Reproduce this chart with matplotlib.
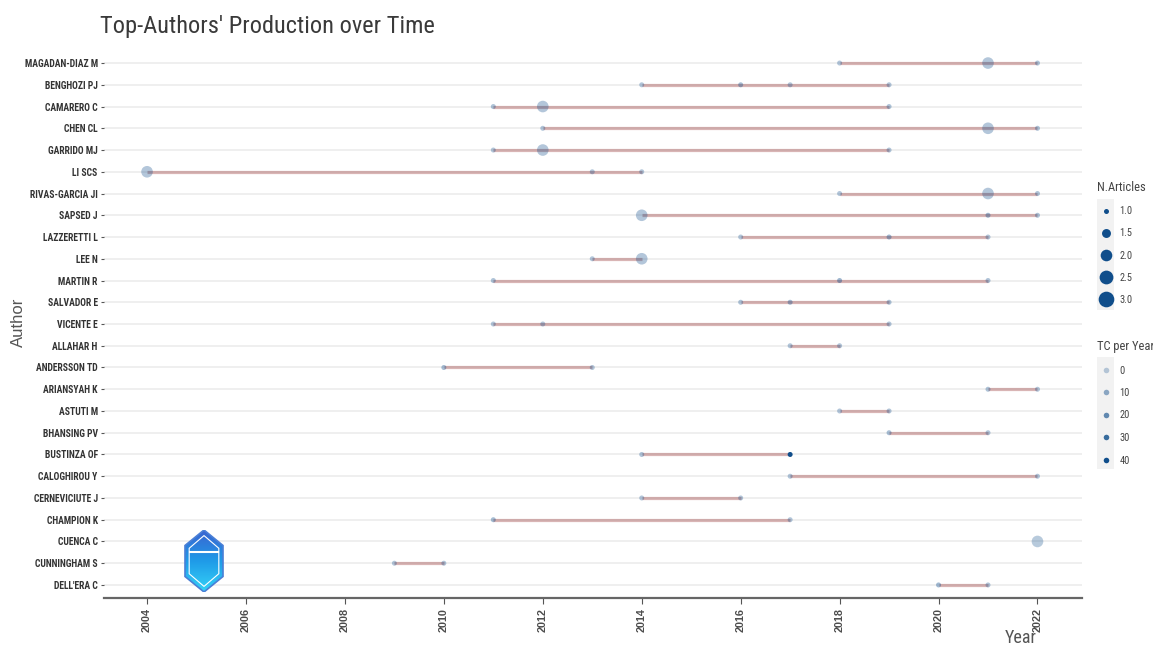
import numpy as np
import matplotlib
matplotlib.use('Agg')
import matplotlib.pyplot as plt
from matplotlib import font_manager
from matplotlib.lines import Line2D
from matplotlib.patches import Polygon, Rectangle

# authors, top to bottom
autores = ['MAGADAN-DIAZ M', 'BENGHOZI PJ', 'CAMARERO C', 'CHEN CL', 'GARRIDO MJ',
           'LI SCS', 'RIVAS-GARCIA JI', 'SAPSED J', 'LAZZERETTI L', 'LEE N',
           'MARTIN R', 'SALVADOR E', 'VICENTE E', 'ALLAHAR H', 'ANDERSSON TD',
           'ARIANSYAH K', 'ASTUTI M', 'BHANSING PV', 'BUSTINZA OF', 'CALOGHIROU Y',
           'CERNEVICIUTE J', 'CHAMPION K', 'CUENCA C', 'CUNNINGHAM S', "DELL'ERA C"]

# one entry per point: author, year, n. articles, TC per year
punto_autor = ['MAGADAN-DIAZ M', 'MAGADAN-DIAZ M', 'MAGADAN-DIAZ M',
               'BENGHOZI PJ', 'BENGHOZI PJ', 'BENGHOZI PJ', 'BENGHOZI PJ',
               'CAMARERO C', 'CAMARERO C', 'CAMARERO C',
               'CHEN CL', 'CHEN CL', 'CHEN CL',
               'GARRIDO MJ', 'GARRIDO MJ', 'GARRIDO MJ',
               'LI SCS', 'LI SCS', 'LI SCS',
               'RIVAS-GARCIA JI', 'RIVAS-GARCIA JI', 'RIVAS-GARCIA JI',
               'SAPSED J', 'SAPSED J', 'SAPSED J',
               'LAZZERETTI L', 'LAZZERETTI L', 'LAZZERETTI L',
               'LEE N', 'LEE N',
               'MARTIN R', 'MARTIN R', 'MARTIN R',
               'SALVADOR E', 'SALVADOR E', 'SALVADOR E',
               'VICENTE E', 'VICENTE E', 'VICENTE E',
               'ALLAHAR H', 'ALLAHAR H',
               'ANDERSSON TD', 'ANDERSSON TD',
               'ARIANSYAH K', 'ARIANSYAH K',
               'ASTUTI M', 'ASTUTI M',
               'BHANSING PV', 'BHANSING PV',
               'BUSTINZA OF', 'BUSTINZA OF',
               'CALOGHIROU Y', 'CALOGHIROU Y',
               'CERNEVICIUTE J', 'CERNEVICIUTE J',
               'CHAMPION K', 'CHAMPION K',
               'CUENCA C',
               'CUNNINGHAM S', 'CUNNINGHAM S',
               "DELL'ERA C", "DELL'ERA C"]
punto_anio = [2018, 2021, 2022,
              2014, 2016, 2017, 2019,
              2011, 2012, 2019,
              2012, 2021, 2022,
              2011, 2012, 2019,
              2004, 2013, 2014,
              2018, 2021, 2022,
              2014, 2021, 2022,
              2016, 2019, 2021,
              2013, 2014,
              2011, 2018, 2021,
              2016, 2017, 2019,
              2011, 2012, 2019,
              2017, 2018,
              2010, 2013,
              2021, 2022,
              2018, 2019,
              2019, 2021,
              2014, 2017,
              2017, 2022,
              2014, 2016,
              2011, 2017,
              2022,
              2009, 2010,
              2020, 2021]
punto_articulos = [1, 2, 1,
                   1, 1, 1, 1,
                   1, 2, 1,
                   1, 2, 1,
                   1, 2, 1,
                   2, 1, 1,
                   1, 2, 1,
                   2, 1, 1,
                   1, 1, 1,
                   1, 2,
                   1, 1, 1,
                   1, 1, 1,
                   1, 1, 1,
                   1, 1,
                   1, 1,
                   1, 1,
                   1, 1,
                   1, 1,
                   1, 1,
                   1, 1,
                   1, 1,
                   1, 1,
                   2,
                   1, 1,
                   1, 1]
punto_tc = [2, 2, 3,
            2, 5, 2, 2,
            3, 2, 3,
            2, 2, 3,
            2, 2, 2,
            2, 2, 2,
            2, 2, 3,
            2, 6, 3,
            2, 6, 2,
            2, 2,
            3, 7, 3,
            3, 5, 3,
            2, 2, 2,
            2, 2,
            5, 2,
            3, 2,
            2, 2,
            4, 2,
            3, 40,
            2, 2,
            2, 2,
            5, 2,
            1,
            2, 2,
            6, 2]

leyenda_articulos = [1.0, 1.5, 2.0, 2.5, 3.0]
leyenda_tc = [0, 10, 20, 30, 40]

azul = '#104E8B'
rojo = '#8B1A1A'


def buscarFuente(nombres):
    for nom in nombres:
        try:
            font_manager.findfont(nom, fallback_to_default=False)
            return nom, True
        except ValueError:
            pass
    return 'Liberation Sans', False


fuente, estrecha = buscarFuente(['Roboto Condensed', 'Liberation Sans Narrow',
                                 'Open Sans Condensed', 'DejaVu Sans Condensed'])
escala = 1.0 if estrecha else 0.82


def diametro(n):
    # marker diameter in points
    return np.sqrt(25 + 110 * (np.asarray(n, dtype=float) - 1)) * 0.72


def alfa(tc):
    return 0.28 + 0.72 * np.clip(np.asarray(tc, dtype=float) / 40.0, 0, 1)


plt.rcParams['font.family'] = [fuente, 'Liberation Sans', 'DejaVu Sans']

fig = plt.figure(figsize=(11.53, 6.46), dpi=100)
ax = fig.add_axes([104 / 1153, 1 - 598 / 646, (1082 - 104) / 1153, (598 - 50) / 646])

n = len(autores)
ypos = {a: n - 1 - i for i, a in enumerate(autores)}

for y in range(n):
    ax.axhline(y, color='#ebebeb', lw=1.1, zorder=0)

# segments
for a in autores:
    anios = [punto_anio[k] for k in range(len(punto_autor)) if punto_autor[k] == a]
    if len(anios) > 1:
        ax.plot([min(anios), max(anios)], [ypos[a], ypos[a]], color=rojo, alpha=0.32,
                lw=2.3, solid_capstyle='butt', zorder=1)

# points
xs = np.array(punto_anio)
ys = np.array([ypos[a] for a in punto_autor])
tam = diametro(punto_articulos) ** 2
colores = [matplotlib.colors.to_rgba(azul, al) for al in alfa(punto_tc)]
ax.scatter(xs, ys, s=tam, c=colores, edgecolors='none', zorder=2)

ax.set_xlim(2003.13, 2022.9)
ax.set_ylim(-0.6, n - 1 + 0.6)
ax.set_xticks(range(2004, 2023, 2))
ax.set_xticklabels([str(t) for t in range(2004, 2023, 2)], rotation=90,
                   fontsize=7.8, fontweight='bold', color='#4d4d4d', family='Liberation Sans')
ax.set_yticks(range(n))
ax.set_yticklabels(autores[::-1], fontsize=6.9 * escala, fontweight='bold', color='#333333')
ax.tick_params(axis='y', length=2.5, width=0.8, color='#555555', pad=2)
ax.tick_params(axis='x', length=4, width=0.8, color='#555555', pad=3)

for s in ['top', 'right', 'left']:
    ax.spines[s].set_visible(False)
ax.spines['bottom'].set_color('#666666')
ax.spines['bottom'].set_linewidth(1.6)

fig.text(100 / 1153, 1 - 27 / 646, "Top-Authors' Production over Time", fontsize=17.6 * escala,
         color='#3a3a3a', va='center', ha='left')
fig.text(18 / 1153, 1 - 322 / 646, 'Author', fontsize=12, color='#555555', rotation=90,
         va='center', ha='center', family='Liberation Sans')
fig.text(1021 / 1153, 1 - 638 / 646, 'Year', fontsize=12 * escala + 1, color='#555555',
         va='center', ha='center')

# grey key backgrounds of the legends
for y0, y1 in [(199, 310), (357, 469)]:
    fig.patches.append(Rectangle((1097 / 1153, 1 - y1 / 646), 17 / 1153, (y1 - y0) / 646,
                                 transform=fig.transFigure, facecolor='#f2f2f2',
                                 edgecolor='none', zorder=0))

h1 = [Line2D([], [], ls='', marker='o', color=azul, markeredgewidth=0,
             markersize=float(diametro(v))) for v in leyenda_articulos]
leg1 = fig.legend(h1, [f'{v:.1f}' for v in leyenda_articulos], title='N.Articles',
                  loc='upper left', bbox_to_anchor=(1097 / 1153, 1 - 181 / 646),
                  frameon=False, fontsize=7.5 * escala, title_fontsize=9 * escala,
                  labelspacing=1.17, handlelength=1.73, handletextpad=0.4,
                  borderpad=0, borderaxespad=0, alignment='left')
h2 = [Line2D([], [], ls='', marker='o', color=azul, alpha=float(alfa(v)),
             markeredgewidth=0, markersize=4) for v in leyenda_tc]
leg2 = fig.legend(h2, [str(v) for v in leyenda_tc], title='TC per Year',
                  loc='upper left', bbox_to_anchor=(1097 / 1153, 1 - 340 / 646),
                  frameon=False, fontsize=7.5 * escala, title_fontsize=9 * escala,
                  labelspacing=1.2, handlelength=1.73, handletextpad=0.4,
                  borderpad=0, borderaxespad=0, alignment='left')
for lg in (leg1, leg2):
    for t in lg.get_texts():
        t.set_color('#444444')
    lg.get_title().set_color('#444444')

# logo badge
lax = fig.add_axes([184 / 1153, 1 - 592 / 646, 40 / 1153, 62 / 646])
lax.set_xlim(-1, 1)
lax.set_ylim(-1, 1)
lax.axis('off')
hx = [0, 0.95, 0.95, 0, -0.95, -0.95]
hy = [1, 0.5, -0.5, -1, -0.5, 0.5]
hexa = Polygon(list(zip(hx, hy)), closed=True, facecolor='none', edgecolor='#4a7fd6', lw=1.2)
lax.add_patch(hexa)
grad = np.linspace(0, 1, 100).reshape(-1, 1)
img = lax.imshow(grad, extent=[-1, 1, -1, 1], cmap=matplotlib.colors.LinearSegmentedColormap.from_list(
    'g', ['#3a63d0', '#1f9be8', '#35d3f7']), aspect='auto', origin='upper')
img.set_clip_path(hexa)
inner = Polygon(list(zip([0.78 * v for v in hx], [0.82 * v for v in hy])), closed=True,
                facecolor='none', edgecolor='white', lw=0.8)
lax.add_patch(inner)
lax.plot([-0.7, 0.7], [0.28, 0.28], color='white', lw=1.5)

fig.savefig('out.png', dpi=100)
